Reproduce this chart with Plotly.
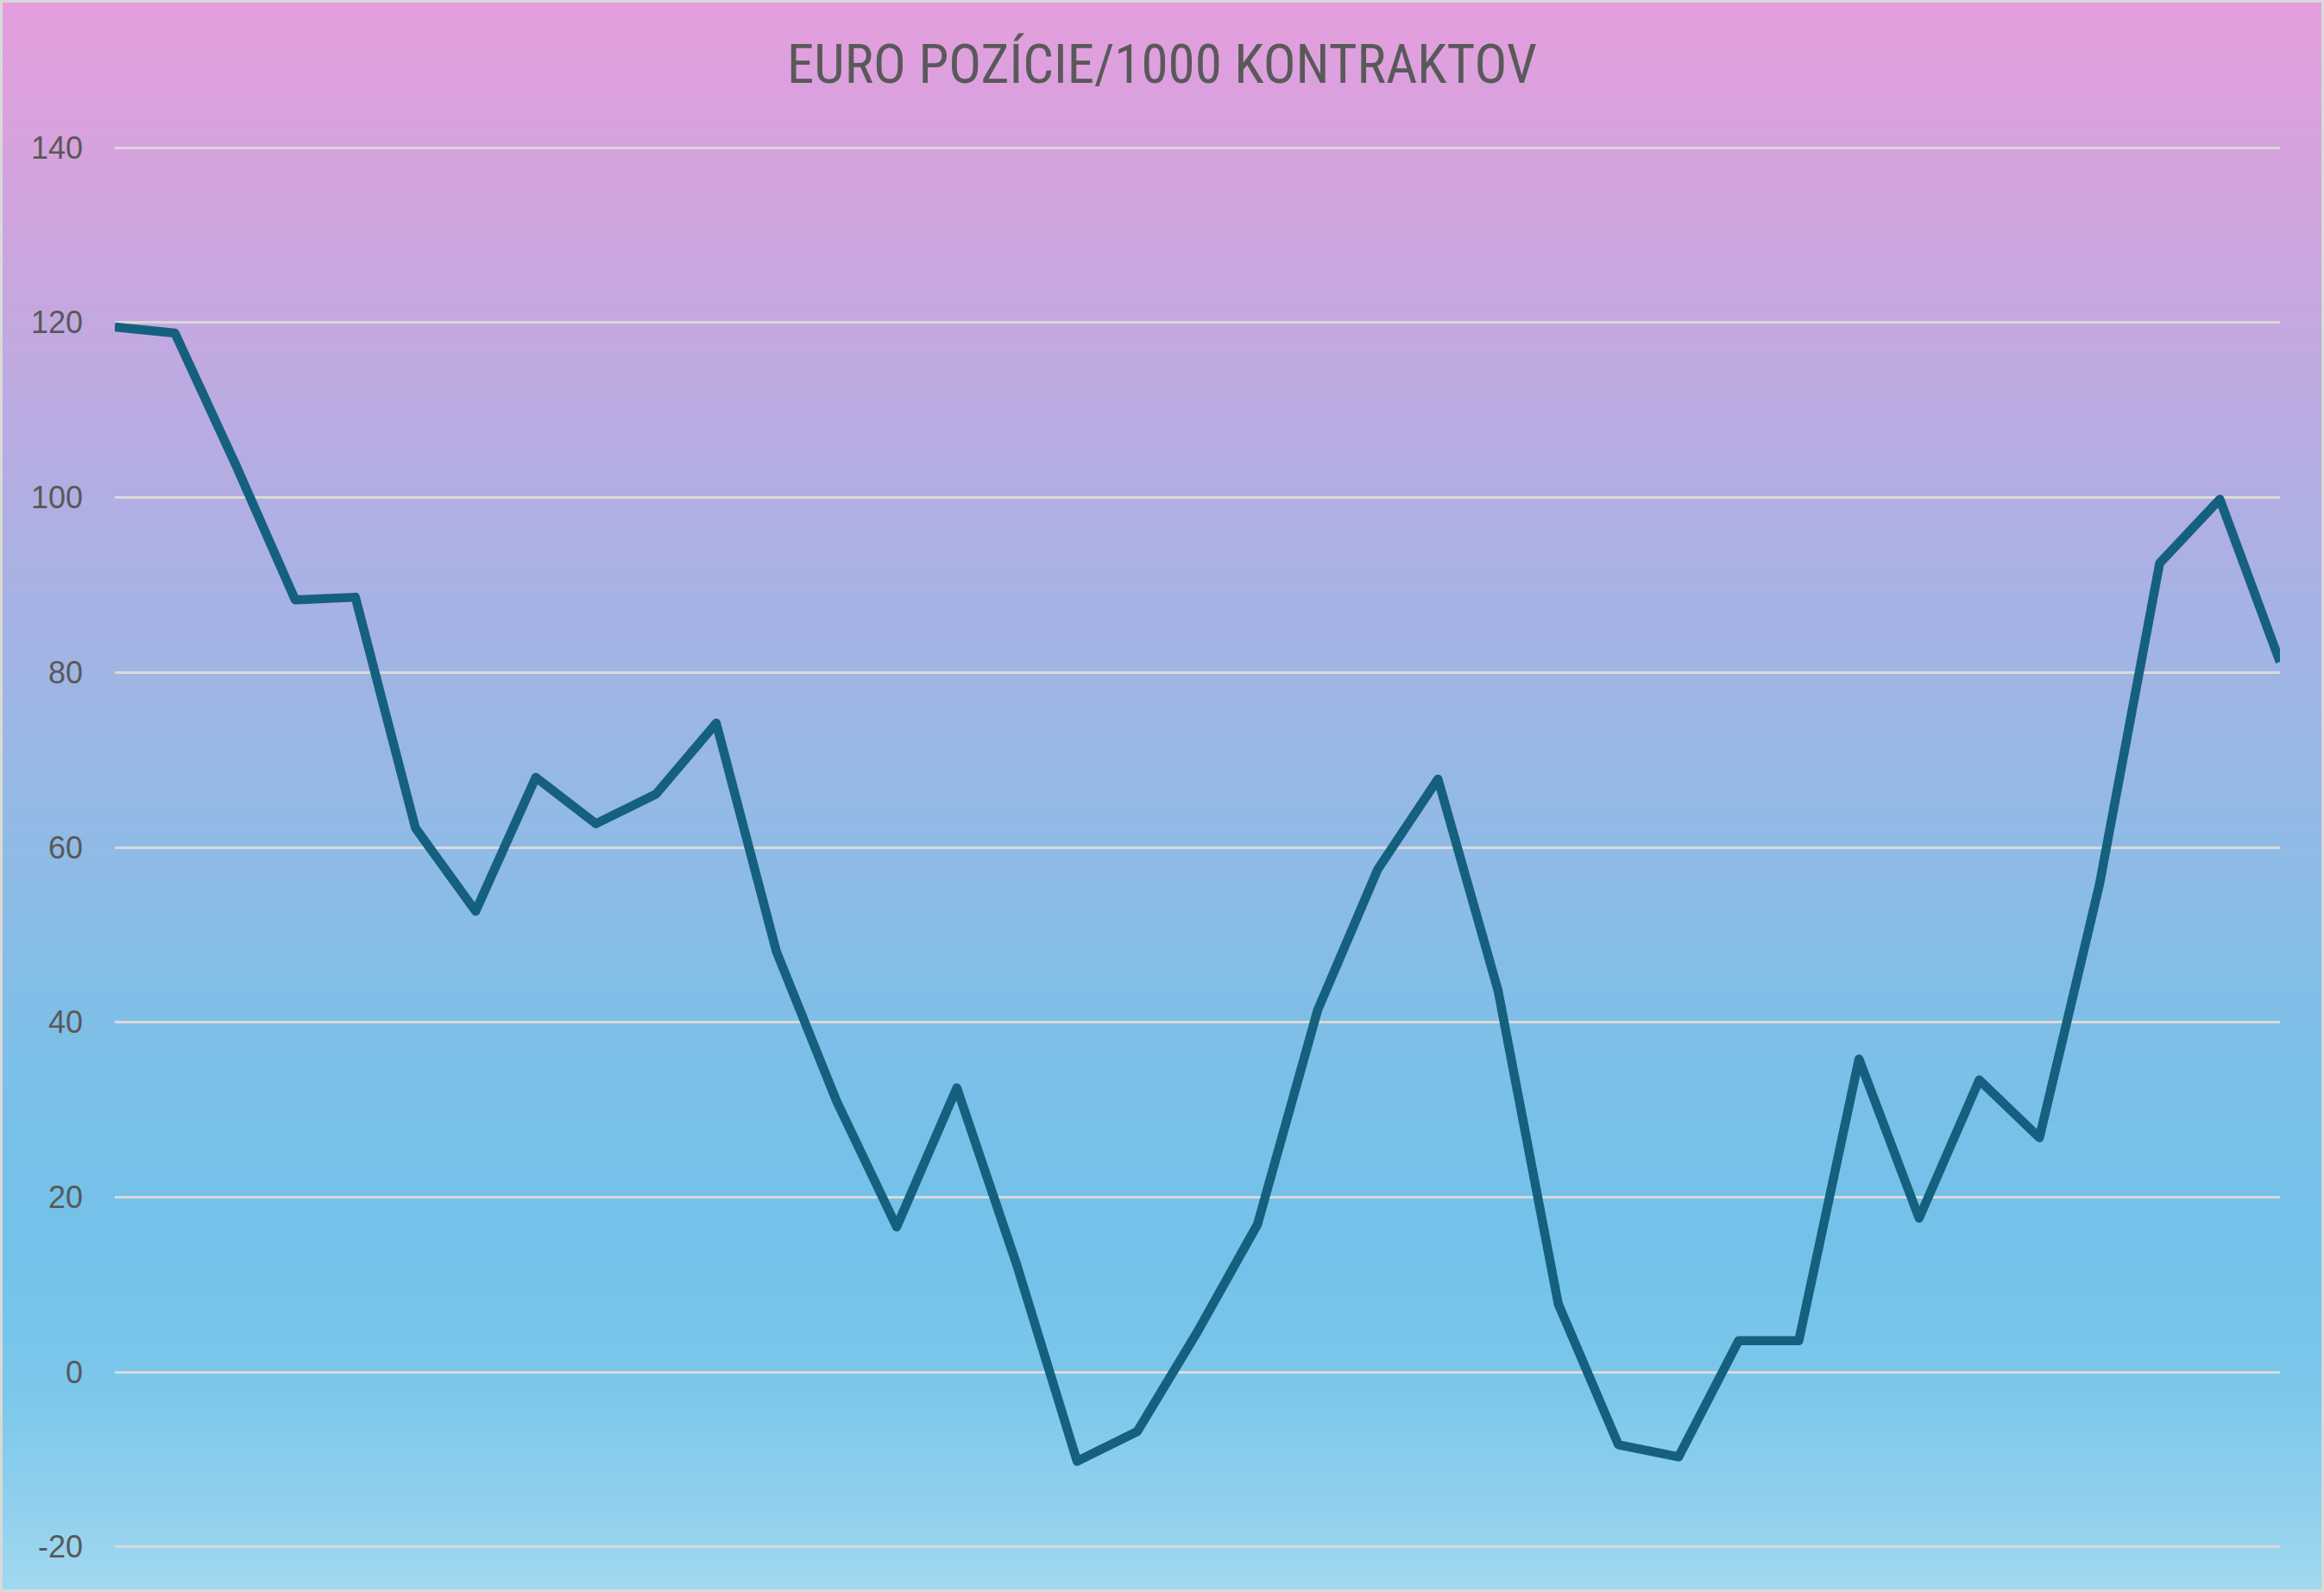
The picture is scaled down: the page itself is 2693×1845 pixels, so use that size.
import base64
import struct
import zlib

import plotly.graph_objects as go

# ---------------- data ----------------
periods = list(range(37))
positions = [119.5, 118.8, 103.9, 88.3, 88.6, 62.2, 52.7, 68.0, 62.7, 66.1,
             74.2, 48.1, 31.0, 16.6, 32.5, 12.2, -10.2, -6.8, 4.6, 16.9,
             41.4, 57.5, 67.8, 43.6, 7.8, -8.3, -9.7, 3.6, 3.6, 35.8,
             17.6, 33.4, 26.8, 55.8, 92.5, 99.8, 81.2]
y_ticks = [-20, 0, 20, 40, 60, 80, 100, 120, 140]
title_text = "EURO POZÍCIE/1000 KONTRAKTOV"

# ---------------- layout geometry ----------------
W, H = 2693, 1845
ML, MR, MT, MB = 133, 51, 161, 42
PW, PH = W - ML - MR, H - MT - MB

# ---------------- background gradient (vertical PNG) ----------------
stops = [(0, (229, 158, 221)), (250, (207, 164, 223)), (500, (184, 172, 226)),
         (750, (162, 180, 228)), (1000, (142, 187, 230)), (1250, (122, 192, 232)),
         (1450, (114, 194, 233)), (1600, (122, 199, 234)), (1750, (145, 208, 237)),
         (1845, (163, 217, 241))]


def color_at(py):
    for (y0, c0), (y1, c1) in zip(stops[:-1], stops[1:]):
        if y0 <= py <= y1:
            t = (py - y0) / (y1 - y0)
            return tuple(int(round(a + (b - a) * t)) for a, b in zip(c0, c1))
    return stops[-1][1]


def make_png(width, height):
    raw = b""
    for py in range(height):
        r, g, b = color_at(py)
        raw += b"\x00" + bytes([r, g, b]) * width
    def chunk(tag, data):
        c = struct.pack(">I", len(data)) + tag + data
        return c + struct.pack(">I", zlib.crc32(tag + data) & 0xFFFFFFFF)
    png = b"\x89PNG\r\n\x1a\n"
    png += chunk(b"IHDR", struct.pack(">IIBBBBB", width, height, 8, 2, 0, 0, 0))
    png += chunk(b"IDAT", zlib.compress(raw, 9))
    png += chunk(b"IEND", b"")
    return "data:image/png;base64," + base64.b64encode(png).decode()


bg_uri = make_png(4, H)

fig = go.Figure()
fig.add_trace(go.Scatter(
    x=periods, y=positions, mode="lines",
    line=dict(color="#16607F", width=10.5),
    hoverinfo="skip", showlegend=False,
))

fig.update_layout(
    width=W, height=H,
    margin=dict(l=ML, r=MR, t=MT, b=MB, pad=0),
    paper_bgcolor="rgba(0,0,0,0)",
    plot_bgcolor="rgba(0,0,0,0)",
    title=dict(text=title_text, x=0.5, xanchor="center", xref="container",
               y=1 - 74 / H, yanchor="middle", yref="container",
               font=dict(family="Liberation Sans Narrow, Roboto Condensed, Arial Narrow, sans-serif",
                         size=63, color="#595959")),
    xaxis=dict(range=[0, 36], showgrid=False, zeroline=False, showticklabels=False,
               showline=False, ticks=""),
    yaxis=dict(range=[-21, 141], tickvals=y_ticks, ticktext=[str(v) for v in y_ticks],
               showgrid=True, gridcolor="#D9D9D9", gridwidth=3, zeroline=False,
               showline=False, ticks="", ticklabelstandoff=36,
               tickfont=dict(family="Liberation Sans, Arial, sans-serif", size=36, color="#595959")),
    images=[dict(source=bg_uri, xref="paper", yref="paper",
                 x=-ML / PW, y=1 + MT / PH, sizex=W / PW, sizey=H / PH,
                 xanchor="left", yanchor="top", sizing="stretch", layer="below")],
    shapes=[dict(type="rect", xref="paper", yref="paper",
                 x0=(-ML + 1.5) / PW, x1=1 + (MR - 1.5) / PW,
                 y0=(-MB + 1.5) / PH, y1=1 + (MT - 1.5) / PH,
                 line=dict(color="#D9D9D9", width=3), fillcolor="rgba(0,0,0,0)",
                 layer="above")],
)

post = (
    "document.body.style.margin='0';document.body.style.padding='0';"
    "document.body.style.overflow='hidden';"
    "document.querySelectorAll('.scatterlayer path.js-line').forEach(function(p){"
    "p.style.strokeLinejoin='round';});"
)

fig.write_html("out.html", config={"displayModeBar": False, "staticPlot": True},
               post_script=post)
